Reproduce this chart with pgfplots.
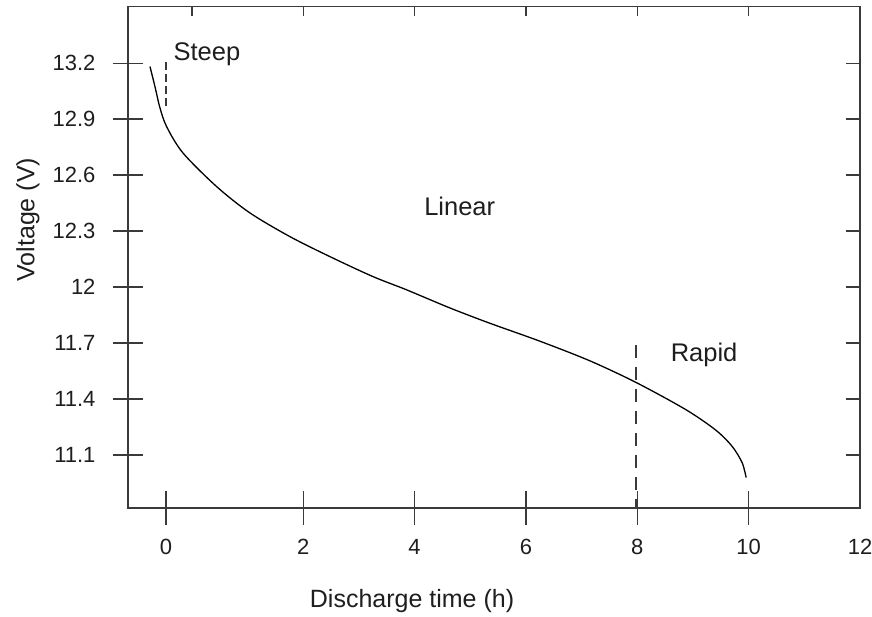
\documentclass[border=0pt]{standalone}
\usepackage{fontspec}
\setmainfont{Liberation Sans}
\usepackage{pgfplots}
\pgfplotsset{compat=1.18}
\definecolor{axgray}{HTML}{3A3A3A}
\definecolor{txt}{HTML}{1E1E1E}

\begin{document}
\begin{tikzpicture}
\useasboundingbox (-128bp,-109bp) rectangle (744bp,508bp);
\pgfplotsset{
  base/.style={
    at={(0,0)}, anchor=south west, scale only axis,
    width=732bp, height=501.3bp,
    xmin=-1.148, xmax=12, ymin=10.816, ymax=13.503,
    axis line style={axgray, line width=1.6bp},
    every tick/.style={axgray, line width=1.4bp},
    tick label style={font=\fontsize{22bp}{26bp}\selectfont, text=txt},
    label style={font=\fontsize{25bp}{30bp}\selectfont, text=txt},
    /pgf/number format/assume math mode=true,
  }
}
% top ticks, inside, no labels
\begin{axis}[base, xtick={0,2,4,6,8,10}, xtick pos=right,
  tick align=inside, major tick length=9bp, ytick=\empty,
  xticklabel={\relax}]
\end{axis}
% right ticks, inside, no labels
\begin{axis}[base, ytick={11.1,11.4,11.7,12,12.3,12.6,12.9,13.2},
  ytick pos=right, tick align=inside, major tick length=14bp, xtick=\empty,
  yticklabel={\relax}]
\end{axis}
% left ticks with labels
\begin{axis}[base, ytick={11.1,11.4,11.7,12,12.3,12.6,12.9,13.2},
  yticklabels={11.1,11.4,11.7,12,12.3,12.6,12.9,13.2},
  ytick pos=left, tick align=center, major tick length=30bp, xtick=\empty,
  yticklabel style={xshift=-14bp},
  ylabel={Voltage (V)},
  ylabel style={at={(axis description cs:0,0.575)}, yshift=100bp, anchor=center}]
\end{axis}
% bottom ticks, curve and notes
\begin{axis}[base, xtick={-0.466,2,4,6,8,10}, xticklabels={0,2,4,6,8,10},
  extra x ticks={12}, extra x tick labels={12},
  extra x tick style={major tick length=0pt, xticklabel style={yshift=-17bp}},
  xtick pos=left, tick align=center, major tick length=34bp, ytick=\empty,
  xticklabel style={yshift=-11bp},
  xlabel={Discharge time (h)},
  xlabel style={at={(axis description cs:0.388,0)}, yshift=-93bp, anchor=center}]
\addplot[black, line width=1.3bp, smooth] table {
x y
-0.753 13.182
-0.664 13.075
-0.574 12.961
-0.454 12.860
-0.161 12.719
0.443 12.539
1.040 12.398
1.758 12.271
2.475 12.164
3.247 12.057
3.851 11.986
4.628 11.889
5.345 11.807
6.242 11.711
7.139 11.606
7.977 11.489
8.873 11.343
9.411 11.233
9.704 11.146
9.883 11.059
9.955 10.979
};
\addplot[axgray, line width=1.4bp, dash pattern=on 8bp off 4bp] table {
x y
-0.466 13.207
-0.466 12.965
};
\addplot[axgray, line width=1.4bp, dash pattern=on 13bp off 9bp] table {
x y
7.98 11.691
7.98 10.816
};
\node[font=\fontsize{25.5bp}{30bp}\selectfont, text=txt] at (axis cs:0.27,13.25) {Steep};
\node[font=\fontsize{25.5bp}{30bp}\selectfont, text=txt] at (axis cs:4.81,12.435) {Linear};
\node[font=\fontsize{25.5bp}{30bp}\selectfont, text=txt] at (axis cs:9.20,11.637) {Rapid};
\end{axis}
\end{tikzpicture}
\end{document}
